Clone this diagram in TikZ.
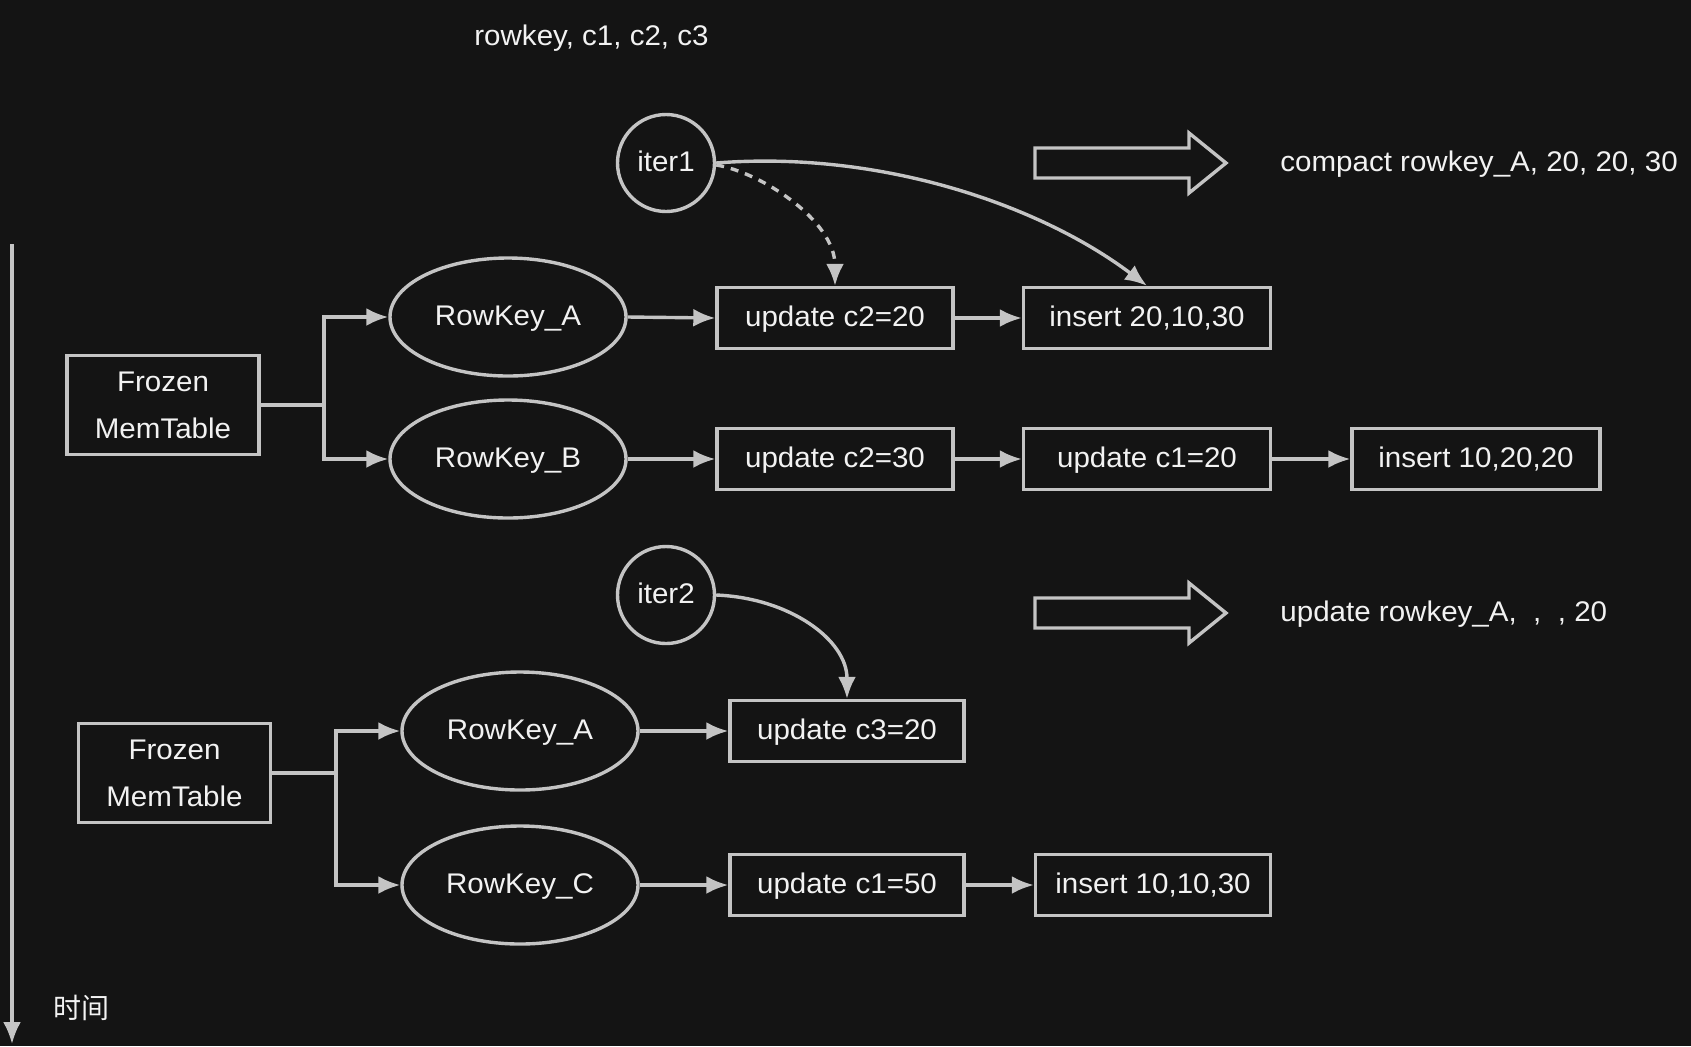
\documentclass[tikz,border=0pt]{standalone}
\usepackage{fontspec}
\setmainfont{Liberation Sans}[FakeStretch=1.04]
\newfontfamily\cjk{Noto Sans CJK SC}
\usetikzlibrary{shapes.geometric,arrows.meta}
\definecolor{bgc}{HTML}{141414}
\definecolor{linec}{HTML}{C4C4C4}
\definecolor{txtc}{HTML}{F2F2F2}
\begin{document}
\begin{tikzpicture}[x=0.5pt,y=-0.5pt,
  every node/.style={text=txtc,font=\fontsize{14.2}{23.5}\selectfont},
  one/.style={text height=1.02em,text depth=0.18em},
  box/.style={one,draw=linec,line width=1.7pt,rectangle,minimum height=30.5pt,inner sep=0pt},
  rk/.style={one,draw=linec,line width=1.7pt,ellipse,minimum width=118pt,minimum height=59pt,inner sep=0pt},
  itc/.style={one,draw=linec,line width=1.7pt,circle,minimum size=48.5pt,inner sep=0pt},
  fm/.style={draw=linec,line width=1.7pt,rectangle,align=center,inner sep=0pt,minimum width=96pt,minimum height=49.5pt},
  lbl/.style={one,anchor=west,inner sep=0pt},
  conn/.style={draw=linec,line width=1.7pt},
  arr/.style={conn,-{Latex[length=11pt,width=9pt]}},
  bigarr/.style={draw=linec,line width=1.7pt}]
\fill[bgc] (0,0) rectangle (1691,1046);
\useasboundingbox (0,0) rectangle (1691,1046);

% title
\node[lbl] (title) at (474,37) {rowkey, c1, c2, c3};

% time axis
\coordinate (t0) at (12,244);
\coordinate (t1) at (12,1044);
\draw[arr] (t0) -- (t1);
\node (time) at (81,1008) {\cjk\fontsize{14}{16}\selectfont 时间};

% ---------- group 1 ----------
\node[itc] (it1) at (666,163) {iter1};
\node[fm] (f1) at (163,405) {Frozen\\MemTable};
\node[rk] (ra1) at (508,317) {RowKey\_A};
\node[rk] (rb1) at (508,459) {RowKey\_B};
\node[box,minimum width=118pt] (u1) at (835,318) {update c2=20};
\node[box,minimum width=123.5pt] (i1) at (1147,318) {insert 20,10,30};
\node[box,minimum width=118pt] (u2) at (835,459) {update c2=30};
\node[box,minimum width=123.5pt] (u3) at (1147,459) {update c1=20};
\node[box,minimum width=124pt] (i2) at (1476,459) {insert 10,20,20};

\coordinate (b1) at (324,405);
\draw[conn] (f1.east) -- (b1);
\draw[arr] (b1) |- (ra1.west);
\draw[arr] (b1) |- (rb1.west);
\draw[arr] (ra1.east) -- (u1.west);
\draw[arr] (u1.east) -- (i1.west);
\draw[arr] (rb1.east) -- (u2.west);
\draw[arr] (u2.east) -- (u3.west);
\draw[arr] (u3.east) -- (i2.west);

\draw[arr] (it1.east) .. controls (880,150) and (1040,205) .. (i1.north);
\draw[arr,dash pattern=on 4pt off 3.5pt] ([yshift=-1pt]it1.east) .. controls (760,172) and (835,220) .. (u1.north);

% big arrow 1
\draw[bigarr] (1035,148) -- (1189,148) -- (1189,133) -- (1226,163) -- (1189,193) -- (1189,178) -- (1035,178) -- cycle;
\node[lbl] (res1) at (1280,163) {compact rowkey\_A, 20, 20, 30};

% ---------- group 2 ----------
\node[itc] (it2) at (666,595) {iter2};
\node[fm] (f2) at (174.5,773) {Frozen\\MemTable};
\node[rk] (ra2) at (520,731) {RowKey\_A};
\node[rk] (rc2) at (520,885) {RowKey\_C};
\node[box,minimum width=117pt] (u4) at (847,731) {update c3=20};
\node[box,minimum width=117pt] (u5) at (847,885) {update c1=50};
\node[box,minimum width=117.5pt] (i3) at (1153,885) {insert 10,10,30};

\coordinate (b2) at (336,773);
\draw[conn] (f2.east) -- (b2);
\draw[arr] (b2) |- (ra2.west);
\draw[arr] (b2) |- (rc2.west);
\draw[arr] (ra2.east) -- (u4.west);
\draw[arr] (rc2.east) -- (u5.west);
\draw[arr] (u5.east) -- (i3.west);

\draw[arr] (it2.east) .. controls (790,598) and (847,640) .. (u4.north);

% big arrow 2
\draw[bigarr] (1035,598) -- (1189,598) -- (1189,583) -- (1226,613) -- (1189,643) -- (1189,628) -- (1035,628) -- cycle;
\node[lbl] (res2) at (1280,613) {update rowkey\_A,\ \ ,\ \ , 20};
\end{tikzpicture}
\end{document}
